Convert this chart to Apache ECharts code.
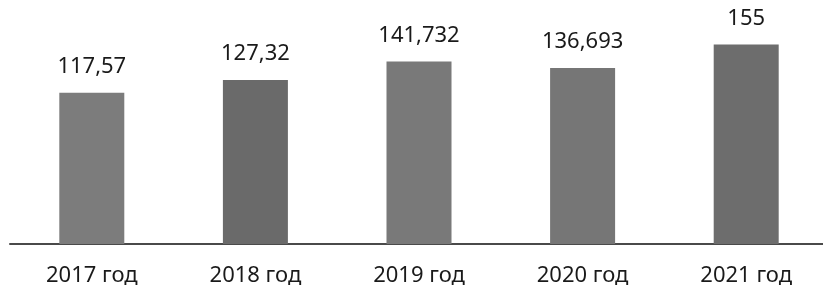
<!DOCTYPE html>
<html>
<head>
<meta charset="utf-8">
<script src="https://cdn.jsdelivr.net/npm/echarts@6/dist/echarts.min.js"></script>
<style>
  html, body { margin: 0; padding: 0; background: #fff; }
  #chart { width: 823px; height: 297px; }
</style>
</head>
<body>
<div id="chart"></div>
<script>
// data
var years = ['2017 год', '2018 год', '2019 год', '2020 год', '2021 год'];
var values = [117.57, 127.32, 141.732, 136.693, 155];
var valueLabels = ['117,57', '127,32', '141,732', '136,693', '155'];

// slight tone differences of the scanned bars
var barColors = ['#7c7c7c', '#6a6a6a', '#797979', '#767676', '#6d6d6d'];

var myChart = echarts.init(document.getElementById('chart'));

var option = {
  backgroundColor: '#ffffff',
  animation: false,
  grid: {
    left: 10,
    width: 818,
    top: 38,
    bottom: 53,
    outerBoundsMode: 'none'
  },
  xAxis: {
    type: 'category',
    data: years,
    axisTick: { show: false },
    axisLine: { lineStyle: { color: '#4a4a4a', width: 2 } },
    axisLabel: {
      margin: 21,
      fontFamily: 'Noto Sans',
      fontSize: 22,
      color: '#1a1a1a'
    }
  },
  yAxis: {
    type: 'value',
    min: 0,
    max: 160,
    show: false
  },
  series: [{
    type: 'bar',
    barWidth: 65,
    data: values.map(function (v, i) {
      return { value: v, itemStyle: { color: barColors[i] } };
    }),
    label: {
      show: true,
      position: 'top',
      distance: 15,
      fontFamily: 'Noto Sans',
      fontSize: 22,
      color: '#1a1a1a',
      formatter: function (p) { return valueLabels[p.dataIndex]; }
    }
  }]
};

option && myChart.setOption(option);
</script>
</body>
</html>
